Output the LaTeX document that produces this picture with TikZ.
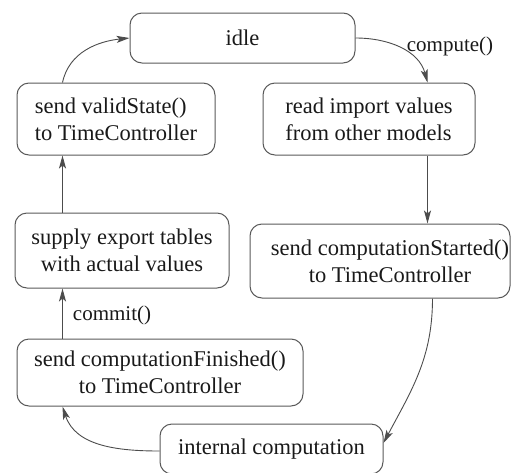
\documentclass[tikz,border=0pt]{standalone}
\usepackage{fontspec}
\setmainfont{Liberation Serif}
\usetikzlibrary{arrows.meta}
\begin{document}
\begin{tikzpicture}[x=1pt,y=1pt,
  state/.style={draw=black!65, line width=1pt, rounded corners=12pt,
    font=\fontsize{22.5}{27}\selectfont, inner sep=0pt, text=black!90},
  trans/.style={draw=black!70, line width=0.9pt,
    -{Stealth[length=13pt,width=7pt,inset=3pt]}},
  lbl/.style={font=\fontsize{21}{25}\selectfont, text=black!90, inner sep=0pt}]
\useasboundingbox (0,0) rectangle (512,-472);

% states of the model cycle
\node[state, minimum width=225, minimum height=50] (idle) at (242.5,-38) {idle};
\node[state, minimum width=198, minimum height=72, align=left] (valid) at (116,-119)
  {send validState()\\to TimeController};
\node[state, minimum width=212, minimum height=72, align=left] (readimp) at (369,-119)
  {read import values\\from other models};
\node[state, minimum width=214, minimum height=75, align=center] (supply) at (122,-250.5)
  {supply export tables\\with actual values};
\node[state, minimum width=260, minimum height=74, align=center] (started) at (380,-261)
  {\hspace*{20pt}send computationStarted()\\\hspace*{20pt}to TimeController};
\node[state, minimum width=286, minimum height=67, align=center] (finished) at (160,-372.5)
  {send computationFinished()\\to TimeController};
\node[state, minimum width=223, minimum height=50] (internal) at (271.5,-449)
  {internal computation};

% transitions
\draw[trans] ([xshift=46pt]valid.north west) to[out=78, in=186] (idle.west);
\draw[trans] (idle.east) to[out=0, in=105]
  node[lbl, pos=0.55, anchor=south west, xshift=2pt, yshift=-6pt] (comp) {compute()}
  ([xshift=165pt]readimp.south west |- readimp.north);
\draw[trans] ([xshift=165pt]readimp.south west) -- ([xshift=178pt]started.north west);
\draw[trans] ([xshift=183pt]started.south west) to[out=-90, in=62] ([yshift=6pt]internal.east);
\draw[trans] ([yshift=-2pt]internal.west) to[out=180, in=-72] ([xshift=46pt]finished.south west);
\draw[trans] ([xshift=46pt]finished.north west) --
  node[lbl, anchor=west, xshift=10pt, pos=0.5, yshift=-2pt] (commit) {commit()}
  ([xshift=48pt]supply.south west);
\draw[trans] ([xshift=48pt]supply.north west) -- ([xshift=46pt]valid.south west);
\end{tikzpicture}
\end{document}
